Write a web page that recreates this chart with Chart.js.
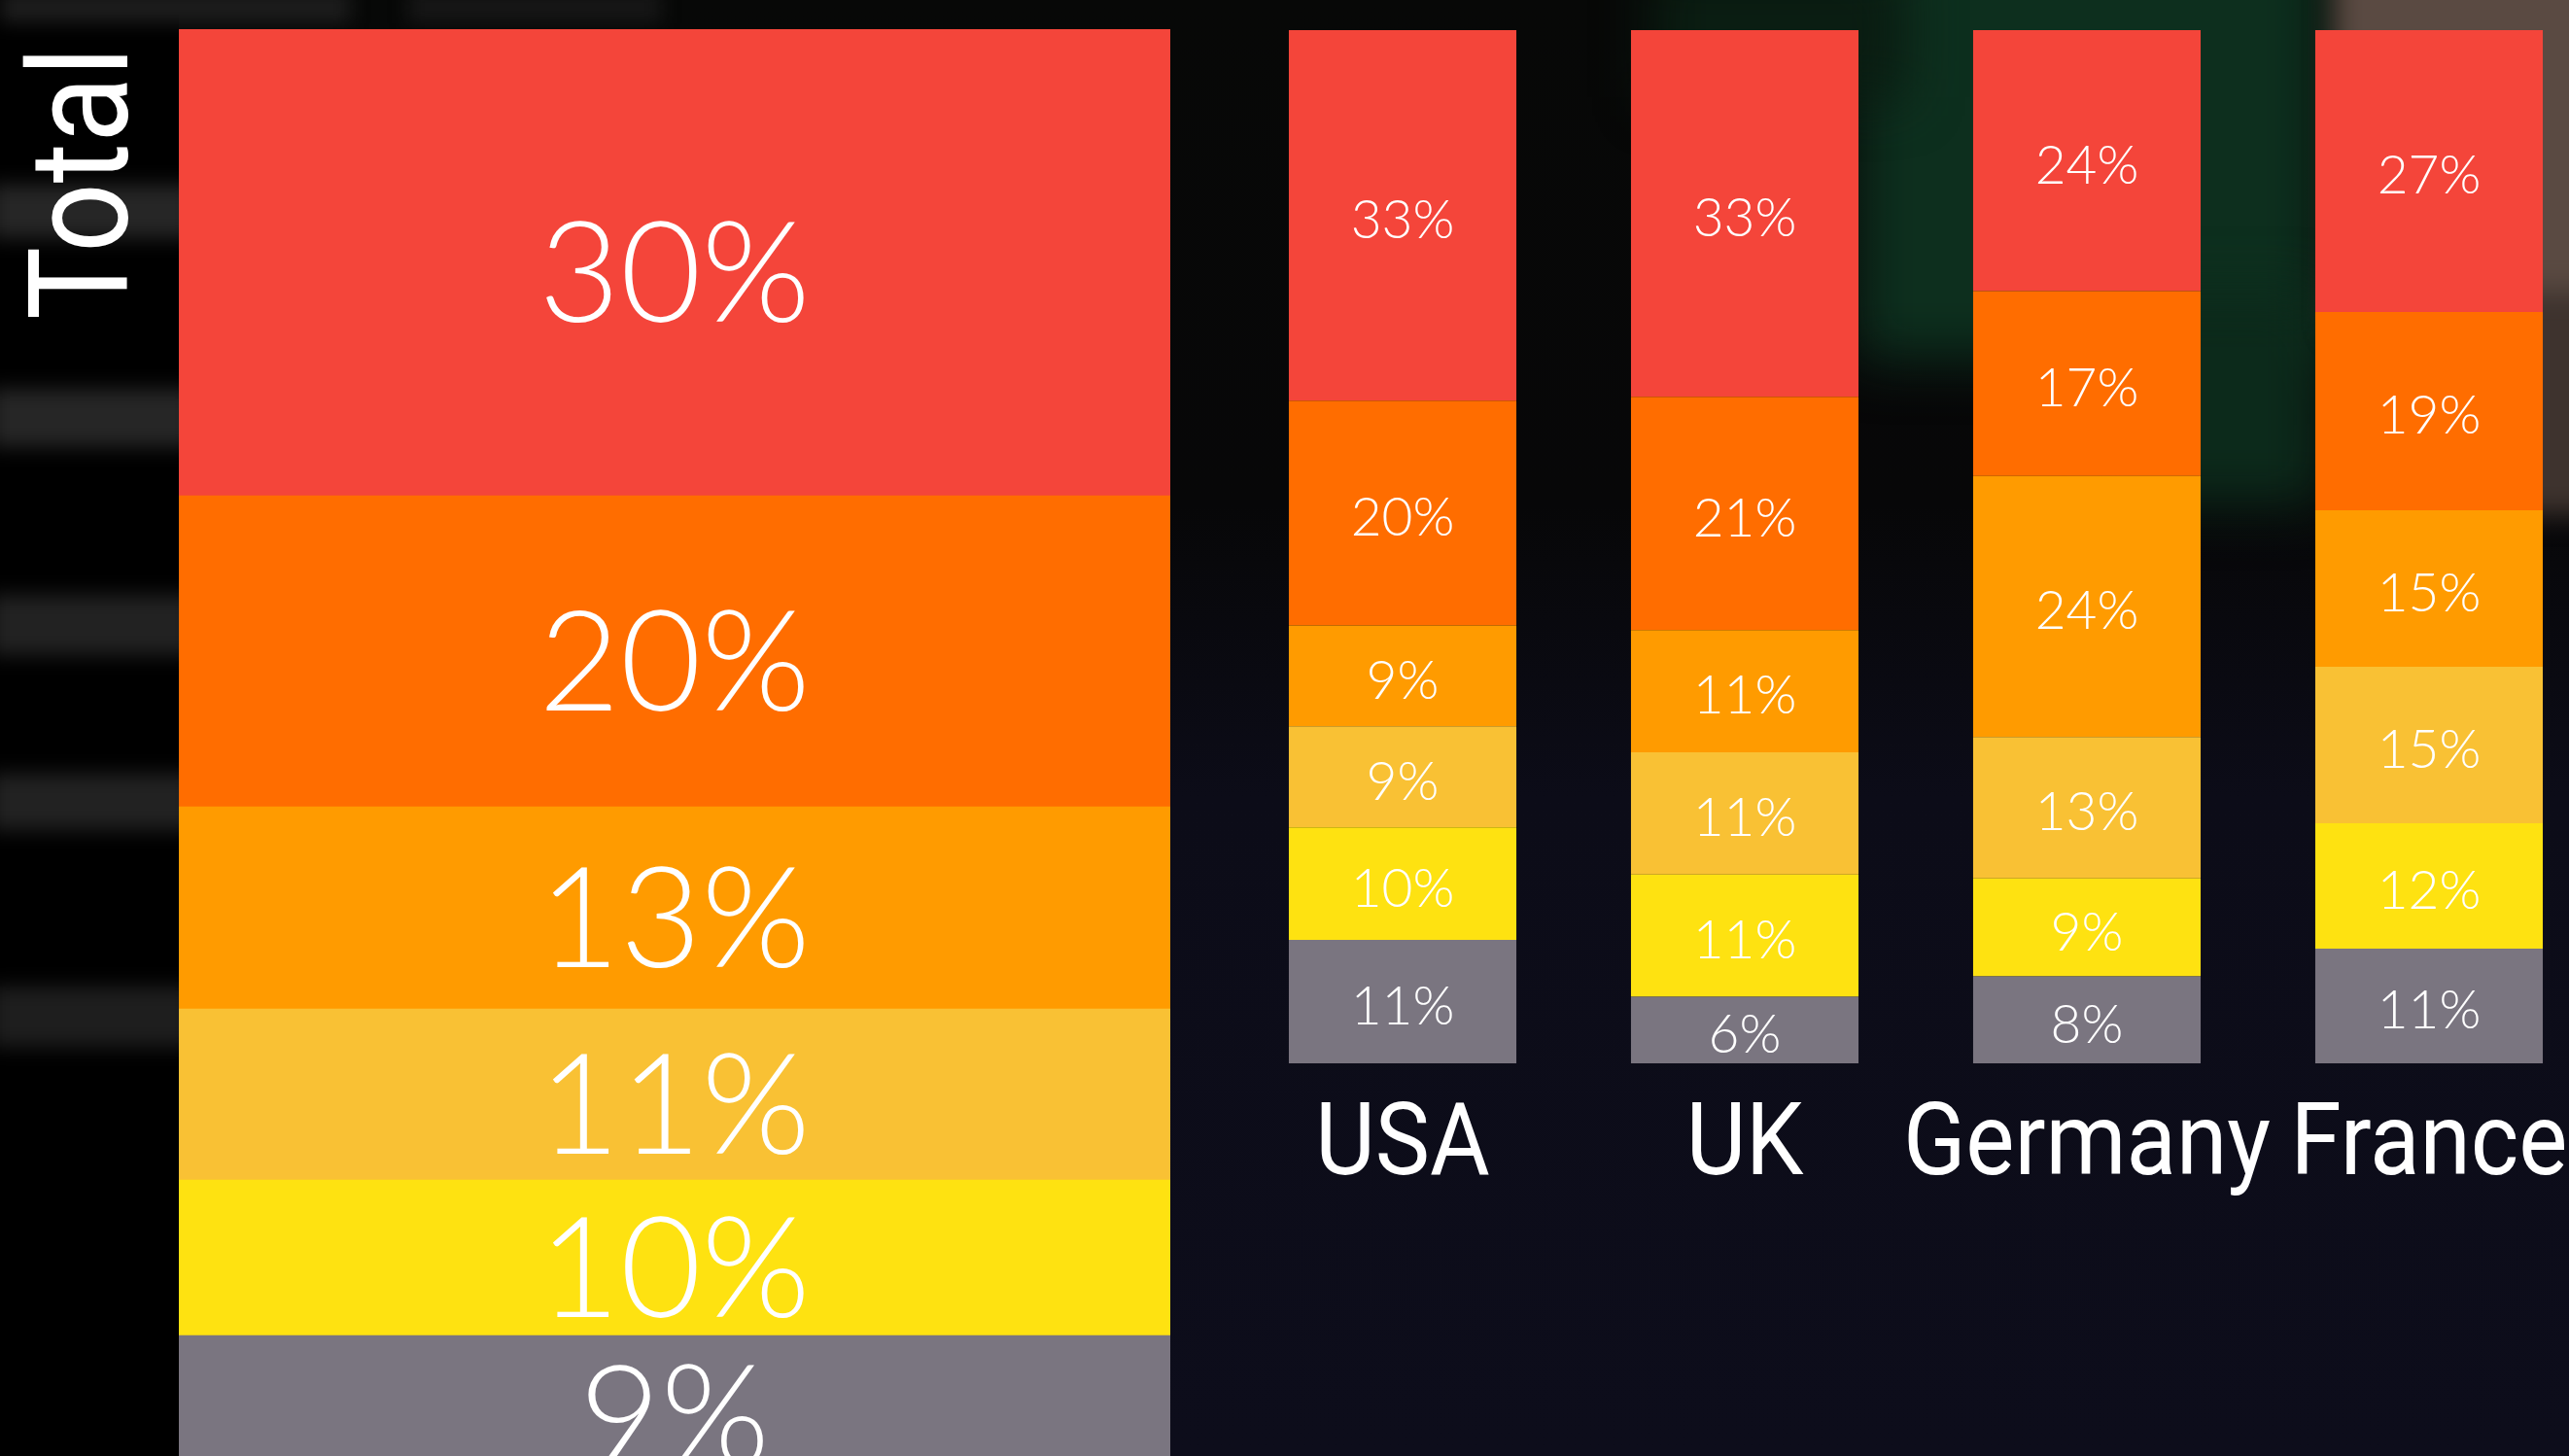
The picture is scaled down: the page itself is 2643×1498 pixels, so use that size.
<!DOCTYPE html>
<html>
<head>
<meta charset="utf-8">
<script src="https://cdn.jsdelivr.net/npm/chart.js@4.4.1/dist/chart.umd.min.js"></script>
<style>
  html, body { margin: 0; padding: 0; width: 2643px; height: 1498px; overflow: hidden; }
  body {
    position: relative;
    background: linear-gradient(180deg, #070807 0px, #070708 520px, #0c0c18 820px, #0d0d1b 1498px);
  }
  .strip { position: absolute; left: 0; width: 184px; top: 0; height: 1498px; background: #000; overflow: hidden; }
  .blur { position: absolute; left: -10px; width: 210px; background: #262626; filter: blur(10px); }
  .topblur { position: absolute; top: -10px; height: 34px; background: #1c1c1c; filter: blur(9px); }
  .glow { position: absolute; filter: blur(28px); }
  #totalBox { position: absolute; left: 0; top: 0; }
  #countryBox { position: absolute; left: 1267px; top: 0; }
</style>
</head>
<body>
<div class="glow" style="left:1910px;top:-60px;width:480px;height:430px;background:#0d2f1e"></div>
<div class="glow" style="left:2150px;top:300px;width:240px;height:220px;background:#0c2a1b"></div>
<div class="glow" style="left:1700px;top:-40px;width:260px;height:140px;background:#0a1d12"></div>
<div class="glow" style="left:2400px;top:-60px;width:300px;height:400px;background:#5a4a42;filter:blur(14px)"></div>
<div class="glow" style="left:2560px;top:300px;width:140px;height:230px;background:#3e332e;filter:blur(14px)"></div>
<div class="strip">
  <div class="blur" style="top:190px;height:55px"></div>
  <div class="blur" style="top:400px;height:60px"></div>
  <div class="blur" style="top:612px;height:62px;background:#222"></div>
  <div class="blur" style="top:796px;height:58px;background:#222"></div>
  <div class="blur" style="top:1015px;height:62px;background:#1e1e1e"></div>
</div>
<div class="topblur" style="left:0;width:360px"></div>
<div class="topblur" style="left:420px;width:260px;background:#161616"></div>
<canvas id="totalBox" width="1220" height="1540"></canvas>
<canvas id="countryBox" width="1408" height="1260"></canvas>
<script>
// segment values, listed top of bar to bottom
const totalValues = [30, 20, 13, 11, 10, 9];
const countries = ['USA', 'UK', 'Germany', 'France'];
const usaValues = [33, 20, 9, 9, 10, 11];
const ukValues = [33, 21, 11, 11, 11, 6];
const germanyValues = [24, 17, 24, 13, 9, 8];
const franceValues = [27, 19, 15, 15, 12, 11];
const segmentColors = ['#F4453A', '#FF6D00', '#FF9B00', '#F9C134', '#FEE211', '#7A7580'];

// each bar is stretched to its own sum, stacked bottom-up
function makeDatasets(rows) {
    const sets = [];
    for (let s = segmentColors.length - 1; s >= 0; s--) {
        sets.push({
            label: 'Segment ' + (s + 1),
            raw: rows.map(r => r[s]),
            data: rows.map(r => r[s] / r.reduce((a, b) => a + b, 0) * 100),
            backgroundColor: segmentColors[s],
            borderWidth: 0,
            categoryPercentage: 1
        });
    }
    return sets;
}

function percentLabels(size) {
    return {
        id: 'percentLabels',
        afterDatasetsDraw(chart) {
            const ctx = chart.ctx;
            ctx.save();
            ctx.fillStyle = '#fff';
            ctx.font = '300 ' + size + 'px Lato';
            ctx.textAlign = 'center';
            ctx.textBaseline = 'alphabetic';
            chart.data.datasets.forEach((ds, i) => {
                chart.getDatasetMeta(i).data.forEach((bar, j) => {
                    const mid = (bar.y + bar.base) / 2;
                    ctx.fillText(ds.raw[j] + '%', bar.x, mid + size * 0.425);
                });
            });
            ctx.restore();
        }
    };
}

function narrowText(ctx, text, x, y, squeeze, angle) {
    ctx.save();
    ctx.translate(x, y);
    ctx.rotate(angle);
    ctx.scale(squeeze, 1);
    ctx.fillText(text, 0, 0);
    ctx.restore();
}

const totalTitle = {
    id: 'totalTitle',
    afterDraw(chart) {
        const ctx = chart.ctx;
        ctx.save();
        ctx.fillStyle = '#fff';
        ctx.font = '143px Roboto';
        ctx.textAlign = 'left';
        ctx.textBaseline = 'alphabetic';
        narrowText(ctx, 'Total', 131, 329, 0.88, -Math.PI / 2);
        ctx.restore();
    }
};

const countryNames = {
    id: 'countryNames',
    afterDraw(chart) {
        const ctx = chart.ctx;
        const xs = chart.scales.x;
        ctx.save();
        ctx.fillStyle = '#fff';
        ctx.font = '104px Roboto';
        ctx.textAlign = 'center';
        ctx.textBaseline = 'alphabetic';
        countries.forEach((c, i) => {
            narrowText(ctx, c, xs.getPixelForValue(i), chart.chartArea.bottom + 114, 0.91, 0);
        });
        ctx.restore();
    }
};

function baseOptions(padding, barPct) {
    return {
        responsive: false,
        animation: false,
        layout: { padding: padding },
        plugins: { legend: { display: false }, tooltip: { enabled: false } },
        datasets: { bar: { barPercentage: barPct, categoryPercentage: 1 } },
        scales: {
            x: { stacked: true, display: false },
            y: { stacked: true, display: false, min: 0, max: 100 }
        }
    };
}

new Chart(document.getElementById('totalBox'), {
    type: 'bar',
    data: { labels: ['Total'], datasets: makeDatasets([totalValues]) },
    options: baseOptions({ left: 184, top: 30, right: 16, bottom: 22 }, 1),
    plugins: [percentLabels(144), totalTitle]
});

new Chart(document.getElementById('countryBox'), {
    type: 'bar',
    data: {
        labels: countries,
        datasets: makeDatasets([usaValues, ukValues, germanyValues, franceValues])
    },
    options: baseOptions({ left: 0, top: 31, right: 0, bottom: 166 }, 0.665),
    plugins: [percentLabels(55), countryNames]
});
</script>
</body>
</html>
